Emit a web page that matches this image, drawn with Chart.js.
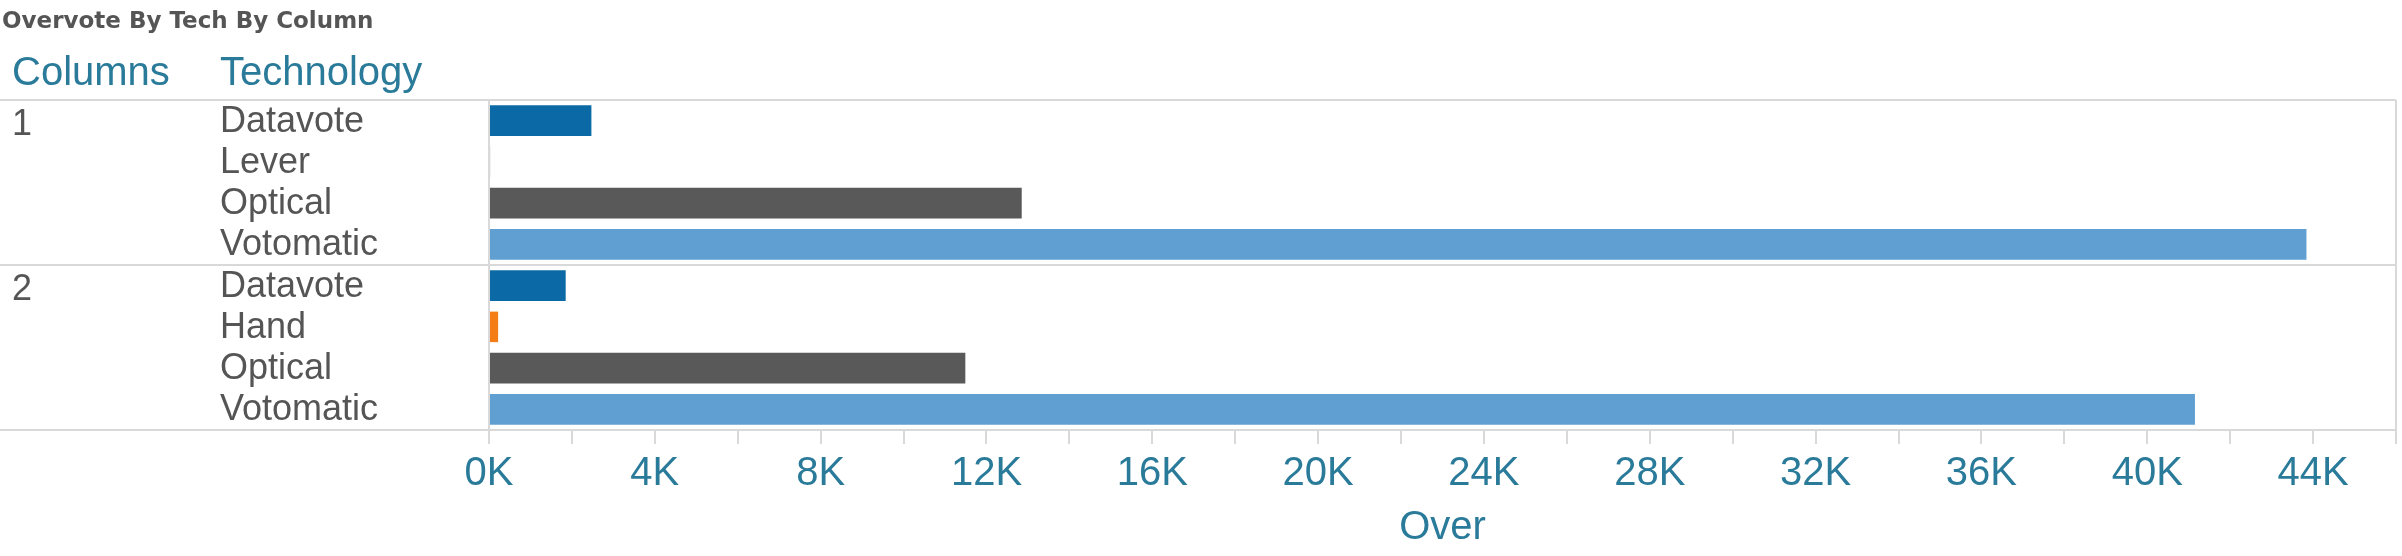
<!DOCTYPE html>
<html>
<head>
<meta charset="utf-8">
<script src="https://cdn.jsdelivr.net/npm/chart.js@4"></script>
<style>
  body { margin: 0; background: #fff; }
</style>
</head>
<body>
<canvas id="myChart" width="2402" height="556"></canvas>
<script>
// data
const groups = ['1', '1', '1', '1', '2', '2', '2', '2'];
const techs = ['Datavote', 'Lever', 'Optical', 'Votomatic', 'Datavote', 'Hand', 'Optical', 'Votomatic'];
const overVotes = [2470, 30, 12850, 43840, 1850, 220, 11490, 41150];
const techColors = { Datavote: '#0b6aa6', Lever: '#c8c8c8', Optical: '#595959', Votomatic: '#5f9fd2', Hand: '#f57d15' };

const teal = '#2a7a9a';
const lineGrey = '#d9d9d9';

// draws title, headers, row labels and panel lines
const tablePlugin = {
  id: 'table',
  afterDraw(chart) {
    const c = chart.ctx, a = chart.chartArea, y = chart.scales.y;
    c.save();
    c.textBaseline = 'middle';
    c.fillStyle = '#555';
    c.font = 'bold 23px "DejaVu Sans"';
    c.fillText('Overvote By Tech By Column', 2, 22);
    c.fillStyle = teal;
    c.font = '40px "Liberation Sans"';
    c.fillText('Columns', 12, 74);
    c.fillText('Technology', 220, 74);

    c.font = '36px "Liberation Sans"';
    c.fillStyle = '#555';
    techs.forEach((t, i) => c.fillText(t, 220, y.getPixelForValue(i) + 1));
    c.fillText('1', 12, y.getPixelForValue(0) + 4);
    c.fillText('2', 12, y.getPixelForValue(4) + 4);

    const mid = (y.getPixelForValue(3) + y.getPixelForValue(4)) / 2;
    c.strokeStyle = lineGrey;
    c.lineWidth = 2;
    c.beginPath();
    [a.top, mid, a.bottom].forEach(v => { c.moveTo(0, v); c.lineTo(a.right, v); });
    c.moveTo(a.left, a.top); c.lineTo(a.left, a.bottom);
    c.moveTo(a.right, a.top); c.lineTo(a.right, a.bottom);
    c.stroke();
    c.restore();
  }
};

new Chart(document.getElementById('myChart'), {
  type: 'bar',
  data: {
    labels: techs,
    datasets: [{
      data: overVotes,
      backgroundColor: techs.map(t => techColors[t]),
      categoryPercentage: 0.74,
      barPercentage: 1
    }]
  },
  plugins: [tablePlugin],
  options: {
    indexAxis: 'y',
    responsive: false,
    animation: false,
    devicePixelRatio: 1,
    layout: { padding: { top: 100, right: 6, bottom: 4 } },
    plugins: { legend: { display: false }, tooltip: { enabled: false } },
    scales: {
      y: {
        grid: { display: false },
        border: { display: false },
        ticks: { display: false },
        afterFit: s => { s.width = 489; }
      },
      x: {
        min: 0, max: 46000,
        grid: { drawOnChartArea: false, drawTicks: true, tickLength: 14, color: lineGrey, lineWidth: 2 },
        border: { display: false },
        ticks: {
          stepSize: 2000,
          autoSkip: false,
          maxRotation: 0,
          color: teal,
          font: { family: 'Liberation Sans Narrow, Liberation Sans', size: 40 },
          padding: 6,
          callback: v => v % 4000 === 0 ? (v / 1000) + 'K' : ''
        },
        title: { display: true, text: 'Over', color: teal, font: { family: 'Liberation Sans', size: 40 }, padding: 0 }
      }
    }
  }
});
</script>
</body>
</html>
